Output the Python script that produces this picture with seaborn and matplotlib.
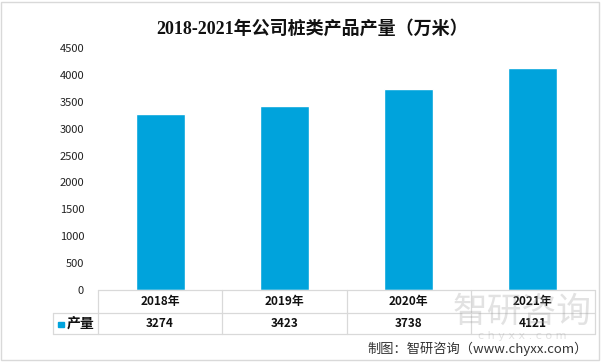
import matplotlib
matplotlib.use('Agg')
import matplotlib.pyplot as plt
import seaborn as sns
from matplotlib.lines import Line2D
from matplotlib.patches import Rectangle
import matplotlib.transforms as mtransforms

years = ['2018年', '2019年', '2020年', '2021年']
output = [3274, 3423, 3738, 4121]
series_name = '产量'
title = '2018-2021年公司桩类产品产量（万米）'
source = '制图：智研咨询（www.chyxx.com）'

bar_color = '#00A3DC'
grid_color = '#D9D9D9'
cjk = ['Noto Sans CJK SC', 'DejaVu Sans']

sns.set_theme(style='white')
plt.rcParams['font.family'] = cjk

W, H = 605, 363
fig = plt.figure(figsize=(W / 100, H / 100), dpi=100)
# axes placed in pixel terms: left 98, right 595, top 48, bottom 290
ax = fig.add_axes([98 / W, 1 - 290 / H, (595 - 98) / W, (290 - 48) / H])

sns.barplot(x=years, y=output, color=bar_color, width=0.395, saturation=1, ax=ax)
ax.set_xlim(-0.5, 3.5)
ax.set_ylim(0, 4500)
ax.set_yticks(range(0, 4501, 500))
ax.tick_params(axis='y', length=0, labelsize=8, labelcolor='#222222', pad=10)
ax.set_xticks([])
ax.set_xlabel('')
ax.set_ylabel('')
for s in ax.spines.values():
    s.set_visible(False)

# data table under the axes
ah = 290 - 48
y_r1 = (290 - 313) / ah
y_r2 = (290 - 334) / ah
x_leg = (53 - 98) / (595 - 98)
bt = mtransforms.blended_transform_factory(ax.transData, ax.transAxes)

def hline(x0, x1, y):
    ax.add_line(Line2D([x0, x1], [y, y], transform=ax.transAxes, color=grid_color,
                       lw=0.9, clip_on=False))

hline(0, 1, 0)
hline(x_leg, 1, y_r1)
hline(x_leg, 1, y_r2)
for xb in [-0.5, 0.5, 1.5, 2.5, 3.5]:
    ax.add_line(Line2D([xb, xb], [0, y_r2], transform=bt, color=grid_color,
                       lw=0.9, clip_on=False))
ax.add_line(Line2D([x_leg, x_leg], [y_r1, y_r2], transform=ax.transAxes,
                   color=grid_color, lw=0.9, clip_on=False))

for i, (yr, v) in enumerate(zip(years, output)):
    ax.text(i, y_r1 / 2, yr, transform=bt, ha='center', va='center',
            fontsize=8.5, fontweight='bold', color='#111111', zorder=5)
    ax.text(i, (y_r1 + y_r2) / 2, str(v), transform=bt, ha='center', va='center',
            fontsize=8.5, fontweight='bold', color='#111111', zorder=5)

ax.add_patch(Rectangle((58 / W, 1 - 327 / H), 5.5 / W, 5.5 / H, transform=fig.transFigure,
                       color=bar_color, clip_on=False))
fig.text(67 / W, 1 - 323.5 / H, series_name, ha='left', va='center', fontsize=10,
         fontweight='bold', color='#111111')

# title and source
fig.text(312 / W, 1 - 29 / H, title, ha='center', va='center', fontsize=13,
         fontweight='bold', family=['Liberation Serif', 'Noto Sans CJK SC'], color='#111111')
fig.text(588 / W, 1 - 349 / H, source, ha='right', va='center', fontsize=9.5,
         color='#333333')

# watermark (semi-transparent, sits over the last table column as in the source image)
fig.text(522 / W, 1 - 312 / H, '智研咨询', ha='center', va='center', fontsize=25,
         color='#a0a0a0', alpha=0.3, zorder=0)
fig.text(522 / W, 1 - 336 / H, 'c h y x x . c o m', ha='center', va='center', fontsize=8,
         color='#a0a0a0', alpha=0.3, family='DejaVu Sans', zorder=0)

# outer frame
fig.add_artist(Rectangle((1 / W, 1 - 360 / H), 598 / W, 358 / H, transform=fig.transFigure,
                         fill=False, edgecolor='#D9D9D9', lw=1))

fig.savefig('out.png', dpi=100)
